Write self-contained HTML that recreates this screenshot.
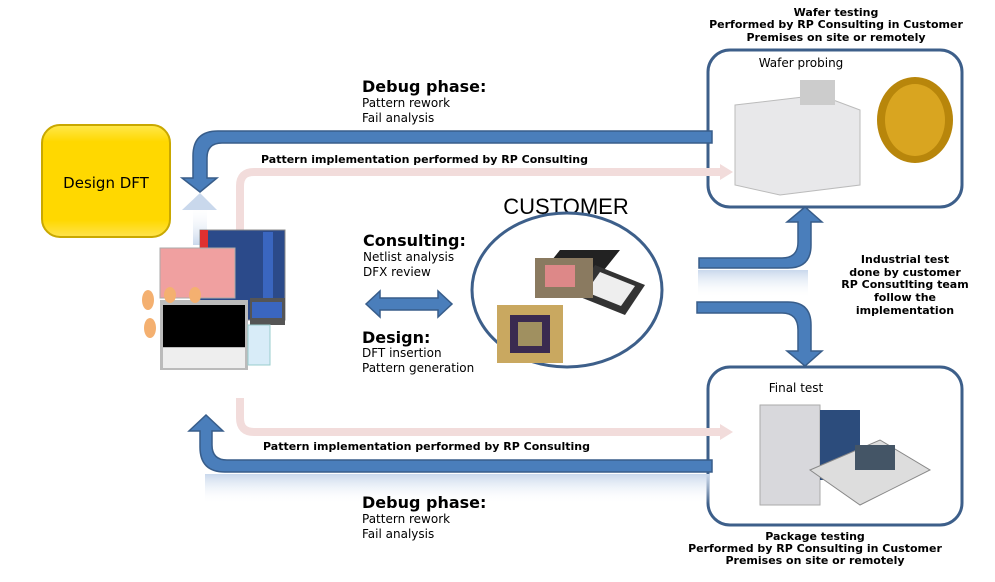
<!DOCTYPE html>
<html><head><meta charset="utf-8"><style>
body{margin:0;background:#fff;}
svg{display:block;font-family:"Liberation Sans","DejaVu Sans",sans-serif;}
.b{font-family:"DejaVu Sans","Liberation Sans",sans-serif;font-weight:bold;}
.v{font-family:"DejaVu Sans","Liberation Sans",sans-serif;}
</style></head><body>
<svg width="995" height="582" viewBox="0 0 995 582" xmlns="http://www.w3.org/2000/svg">
<defs>
<linearGradient id="yg" x1="0" y1="0" x2="0" y2="1"><stop offset="0" stop-color="#ffe94d"/><stop offset="0.15" stop-color="#ffd800"/><stop offset="0.85" stop-color="#ffd800"/><stop offset="1" stop-color="#ffe34d"/></linearGradient>
<linearGradient id="fade" x1="0" y1="0" x2="0" y2="1"><stop offset="0" stop-color="#c9d8ec"/><stop offset="1" stop-color="#fff" stop-opacity="0"/></linearGradient>
<linearGradient id="fadeU" x1="0" y1="1" x2="0" y2="0"><stop offset="0" stop-color="#c9d8ec"/><stop offset="1" stop-color="#fff" stop-opacity="0"/></linearGradient>
</defs>

<!-- Right boxes -->
<rect x="708" y="50" width="254" height="157" rx="22" fill="#fff" stroke="#3d5f8a" stroke-width="3"/>
<rect x="708" y="367" width="254" height="158" rx="22" fill="#fff" stroke="#3d5f8a" stroke-width="3"/>
<text x="801" y="67" font-size="12" text-anchor="middle" class="v">Wafer probing</text>
<polygon points="735,105 820,95 860,110 860,185 780,195 735,185" fill="#e8e8ea" stroke="#bbb"/>
<rect x="800" y="80" width="35" height="25" fill="#ccc"/>
<ellipse cx="915" cy="120" rx="38" ry="43" fill="#b8860b"/><ellipse cx="915" cy="120" rx="30" ry="36" fill="#d9a520"/>
<text x="796" y="392" font-size="12" text-anchor="middle" class="v">Final  test</text>
<rect x="760" y="405" width="60" height="100" fill="#d8d8dc" stroke="#aaa"/>
<rect x="820" y="410" width="40" height="70" fill="#2c4c7c"/>
<polygon points="810,470 880,440 930,470 860,505" fill="#ddd" stroke="#888"/>
<rect x="855" y="445" width="40" height="25" fill="#456"/>

<!-- pink arrows -->
<path d="M240 262 V186 Q240 172 254 172 H722" fill="none" stroke="#f2dcdb" stroke-width="8"/>
<polygon points="720,164 733,172 720,180" fill="#f2dcdb"/>
<path d="M240 398 V418 Q240 432 254 432 H722" fill="none" stroke="#f2dcdb" stroke-width="8"/>
<polygon points="720,424 733,432 720,440" fill="#f2dcdb"/>

<!-- reflections -->
<rect x="193" y="205" width="14" height="40" fill="url(#fadeU)"/>
<polygon points="182,210 200,193 217,210" fill="#c9d8ec"/>
<rect x="205" y="474" width="505" height="30" fill="url(#fade)"/>
<rect x="698" y="270" width="110" height="28" fill="url(#fade)"/>

<!-- top blue arrow -->
<path d="M712 131 H218 Q193 131 193 156 V178 H182 L200 192 L217 178 H207 V158 Q207 143 222 143 H712 Z" fill="#4a7ebb" stroke="#385d8a" stroke-width="1.5"/>
<!-- bottom blue arrow -->
<path d="M712 472 H225 Q200 472 200 447 V431 H189 L206 415 L223 431 H212 V445 Q212 460 227 460 H712 Z" fill="#4a7ebb" stroke="#385d8a" stroke-width="1.5"/>
<!-- right up arrow -->
<path d="M699 258 H782 Q798 258 798 242 V222 H787 L805 207 L822 222 H811 V245 Q811 268 788 268 H699 Z" fill="#4a7ebb" stroke="#385d8a" stroke-width="1.5"/>
<!-- right down arrow -->
<path d="M697 302 H788 Q811 302 811 325 V351 H822 L805 366 L787 351 H798 V330 Q798 313 782 313 H697 Z" fill="#4a7ebb" stroke="#385d8a" stroke-width="1.5"/>
<!-- double arrow -->
<polygon points="366,304 380,291 380,298 438,298 438,291 452,304 438,317 438,310 380,310 380,317" fill="#4a7ebb" stroke="#385d8a" stroke-width="1.5"/>

<!-- Design DFT -->
<rect x="42" y="125" width="128" height="112" rx="18" fill="url(#yg)" stroke="#c9a800" stroke-width="2"/>
<text x="106" y="188" font-size="15" text-anchor="middle" class="v">Design DFT</text>

<!-- DFT images -->
<rect x="200" y="230" width="85" height="90" fill="#2b4a8a" stroke="#888"/>
<rect x="200" y="230" width="8" height="28" fill="#e03030"/>
<rect x="263" y="232" width="10" height="86" fill="#3a66c0"/>
<rect x="160" y="248" width="75" height="50" fill="#f0a0a0" stroke="#aaa"/>
<rect x="250" y="298" width="35" height="27" fill="#555"/><rect x="252" y="302" width="30" height="16" fill="#3a66c0"/>
<rect x="160" y="300" width="88" height="70" fill="#bbb"/>
<rect x="163" y="305" width="82" height="42" fill="#000"/>
<rect x="163" y="348" width="82" height="20" fill="#eee"/>
<rect x="248" y="325" width="22" height="40" fill="#d8ecf8" stroke="#9cc"/>
<ellipse cx="148" cy="300" rx="6" ry="10" fill="#f4b070"/><ellipse cx="150" cy="328" rx="6" ry="10" fill="#f4b070"/>
<ellipse cx="170" cy="295" rx="6" ry="8" fill="#f4b070"/><ellipse cx="195" cy="295" rx="6" ry="8" fill="#f4b070"/>

<!-- Customer -->
<text x="566" y="214" font-size="22" text-anchor="middle">CUSTOMER</text>
<ellipse cx="567" cy="290" rx="95" ry="77" fill="#fff" stroke="#3d5f8a" stroke-width="3"/>
<polygon points="560,250 620,250 600,275 540,275" fill="#222"/>
<polygon points="595,265 645,285 625,315 575,295" fill="#333"/>
<polygon points="600,272 635,286 621,306 586,292" fill="#eee"/>
<rect x="535" y="258" width="58" height="40" fill="#8a7a60"/><rect x="545" y="265" width="30" height="22" fill="#d88"/>
<rect x="497" y="305" width="66" height="58" fill="#c9a860"/><rect x="510" y="315" width="40" height="38" fill="#3a2a50"/><rect x="518" y="322" width="24" height="24" fill="#a09060"/>

<!-- Texts -->
<g class="b" font-size="11" text-anchor="middle">
<text x="836" y="16">Wafer testing</text>
<text x="836" y="28">Performed by RP Consulting in Customer</text>
<text x="836" y="41">Premises on site or remotely</text>
<text x="815" y="540">Package testing</text>
<text x="815" y="552">Performed by RP Consulting in Customer</text>
<text x="815" y="564">Premises on site or remotely</text>
<text x="905" y="263">Industrial test</text>
<text x="905" y="276">done by customer</text>
<text x="905" y="288">RP Consutlting team</text>
<text x="905" y="301">follow the</text>
<text x="905" y="314">implementation</text>
</g>
<text x="261" y="163" font-size="11" class="b">Pattern implementation  performed by RP Consulting</text>
<text x="263" y="450" font-size="11" class="b">Pattern implementation  performed by RP Consulting</text>

<text x="362" y="92" font-size="16" class="b">Debug phase:</text>
<text x="362" y="107" font-size="12" class="v">Pattern rework</text>
<text x="362" y="122" font-size="12" class="v">Fail analysis</text>
<text x="362" y="508" font-size="16" class="b">Debug phase:</text>
<text x="362" y="523" font-size="12" class="v">Pattern rework</text>
<text x="362" y="538" font-size="12" class="v">Fail analysis</text>
<text x="363" y="246" font-size="16" class="b">Consulting:</text>
<text x="363" y="261" font-size="12" class="v">Netlist analysis</text>
<text x="363" y="276" font-size="12" class="v">DFX review</text>
<text x="362" y="343" font-size="16" class="b">Design:</text>
<text x="362" y="357" font-size="12" class="v">DFT insertion</text>
<text x="362" y="372" font-size="12" class="v">Pattern generation</text>
</svg>
</body></html>
